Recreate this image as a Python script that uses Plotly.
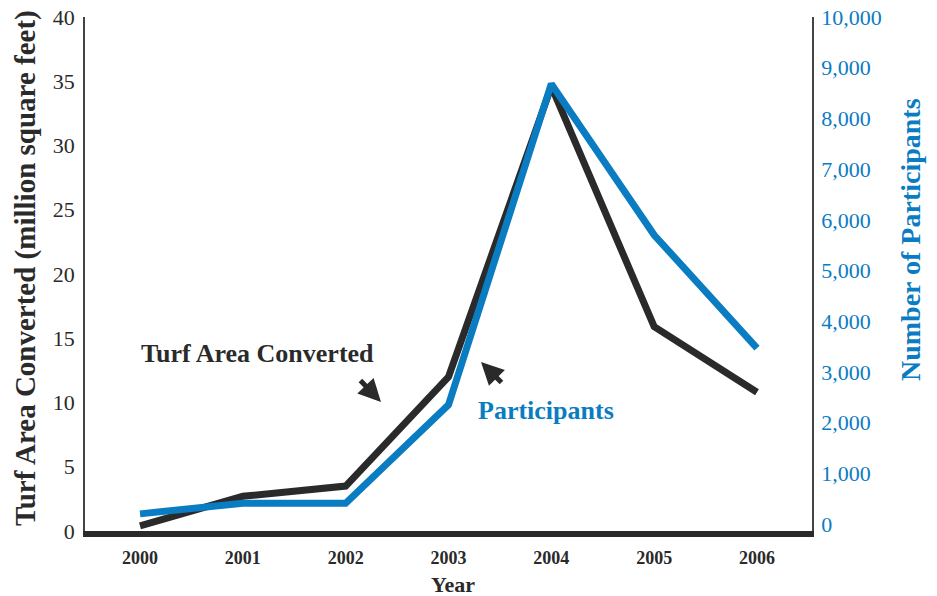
import plotly.graph_objects as go

years = [2000, 2001, 2002, 2003, 2004, 2005, 2006]
turf_area = [0.4, 2.7, 3.5, 12.0, 34.6, 15.9, 10.8]
participants = [200, 410, 410, 2350, 8680, 5700, 3470]
left_ticks = [0, 5, 10, 15, 20, 25, 30, 35, 40]
right_ticks = [0, 1000, 2000, 3000, 4000, 5000, 6000, 7000, 8000, 9000, 10000]

BLACK = "#2a2a2a"
BLUE = "#0a7cc2"
FONT = "Liberation Serif"

W, H = 937, 596
L, R, T, B = 85, 812, 17, 531
PW, PH = R - L, B - T

def px(x):
    return (x - L) / PW

def py(y):
    return (B - y) / PH

fig = go.Figure()
fig.add_trace(go.Scatter(x=years, y=participants, yaxis="y2", mode="lines",
                         line=dict(color=BLUE, width=7), showlegend=False))
fig.add_trace(go.Scatter(x=years, y=turf_area, yaxis="y", mode="lines",
                         line=dict(color=BLACK, width=7), showlegend=False))

fig.update_layout(
    width=W, height=H,
    margin=dict(l=L, r=W - R, t=T, b=H - B),
    paper_bgcolor="white", plot_bgcolor="white",
    font=dict(family=FONT, color=BLACK),
    xaxis=dict(range=[1999.465, 2006.535], tickvals=years, ticktext=[str(y) for y in years],
               showgrid=False, zeroline=False, showline=True, linecolor=BLACK, linewidth=6,
               ticks="", automargin=False, ticklabelstandoff=5,
               tickfont=dict(size=18, family=FONT, weight="bold", color=BLACK)),
    yaxis=dict(range=[0, 40], tickvals=left_ticks, showgrid=False, zeroline=False,
               showline=True, linecolor="#444", linewidth=1.5, ticks="", automargin=False,
               ticklabelstandoff=4, ticklabeloverflow="allow",
               tickfont=dict(size=22, family=FONT, color=BLACK)),
    yaxis2=dict(range=[-138, 10000], overlaying="y", side="right", tickvals=right_ticks,
                tickformat=",d", showgrid=False, zeroline=False, showline=True,
                linecolor="#444", linewidth=1.5, ticks="", automargin=False,
                ticklabelstandoff=3, ticklabeloverflow="allow",
                tickfont=dict(size=22, family=FONT, color=BLUE)),
)

# axis titles
fig.add_annotation(text="Turf Area Converted (million square feet)", xref="paper", yref="paper",
                   x=px(25), y=py(268), xanchor="center", yanchor="middle",
                   textangle=-90, showarrow=False,
                   font=dict(size=29, family=FONT, weight="bold", color=BLACK))
fig.add_annotation(text="Number of Participants", xref="paper", yref="paper",
                   x=px(910), y=py(240), xanchor="center", yanchor="middle",
                   textangle=-90, showarrow=False,
                   font=dict(size=28, family=FONT, weight="bold", color=BLUE))
fig.add_annotation(text="Year", xref="paper", yref="paper",
                   x=px(453), y=py(584), xanchor="center", yanchor="middle", showarrow=False,
                   font=dict(size=22, family=FONT, weight="bold", color=BLACK))

fig.add_annotation(text="Turf Area Converted", xref="paper", yref="paper",
                   x=px(139), y=py(353), xanchor="left", yanchor="middle",
                   showarrow=False, font=dict(size=26, family=FONT, weight="bold", color=BLACK))
fig.add_annotation(text="Participants", xref="paper", yref="paper",
                   x=px(476), y=py(411), xanchor="left", yanchor="middle",
                   showarrow=False, font=dict(size=26, family=FONT, weight="bold", color=BLUE))
# arrows
fig.add_annotation(xref="paper", yref="paper", x=px(381), y=py(402),
                   ax=-22, ay=-23, text="", showarrow=True, arrowhead=2, arrowsize=0.9,
                   arrowwidth=5, arrowcolor=BLACK)
fig.add_annotation(xref="paper", yref="paper", x=px(481), y=py(362),
                   ax=22, ay=22, text="", showarrow=True, arrowhead=2, arrowsize=0.9,
                   arrowwidth=5, arrowcolor=BLACK)

fig.write_html("out.html", config={"displayModeBar": False},
               post_script="document.body.style.margin='0';document.body.style.overflow='hidden';")
